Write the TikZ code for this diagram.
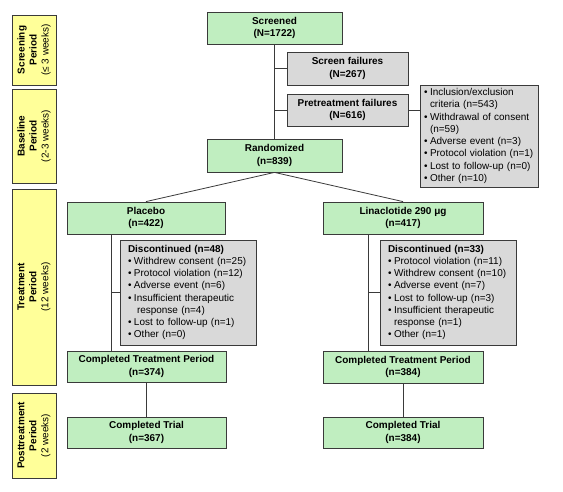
\documentclass[tikz,border=0pt]{standalone}
\usepackage{fontspec}
\setmainfont{Liberation Sans}
\definecolor{stagegreen}{HTML}{C0EEC0}
\definecolor{dropgray}{HTML}{D9D9D9}
\definecolor{periodyellow}{HTML}{FFFF99}
\definecolor{edge}{HTML}{3A3A3A}
\newcommand{\itm}{\makebox[6bp][l]{\textbullet}}
\newcommand{\cnt}{\hspace*{6bp}}

\begin{document}
\begin{tikzpicture}[
  x=1bp, y=1bp, font=\fontsize{10}{12.3}\selectfont,
  stage/.style={draw=edge, fill=stagegreen, line width=0.8bp, align=center, inner sep=0pt, font=\bfseries\fontsize{10}{12.5}\selectfont},
  drop/.style={draw=edge, fill=dropgray, line width=0.8bp, align=center, inner sep=0pt, font=\bfseries\fontsize{10}{12.5}\selectfont},
  reason/.style={draw=edge, fill=dropgray, line width=0.8bp, align=left, inner xsep=4bp, inner ysep=0pt},
  period/.style={draw=edge, fill=periodyellow, line width=0.8bp, align=center, rotate=90, inner sep=0pt, minimum height=44bp, font=\fontsize{10}{12}\selectfont},
  flow/.style={draw=edge, line width=0.8bp}]
  \useasboundingbox (0,0) rectangle (563,-492);
  \node[period, minimum width=70bp] (pscreen) at (34,-50) {\textbf{Screening}\\\textbf{Period}\\(≤ 3 weeks)};
  \node[period, minimum width=94bp] (pbase) at (34,-136) {\textbf{Baseline}\\\textbf{Period}\\(2-3 weeks)};
  \node[period, minimum width=196bp] (ptreat) at (34,-287) {\textbf{Treatment}\\\textbf{Period}\\(12 weeks)};
  \node[period, minimum width=85bp] (ppost) at (34,-435.5) {\textbf{Posttreatment}\\\textbf{Period}\\(2 weeks)};
  \node[stage, minimum width=135bp, minimum height=32bp] (screened) at (274.5,-28) {Screened\\(N=1722)};
  \node[drop, minimum width=121bp, minimum height=33bp] (screenfail) at (347.5,-68.5) {Screen failures\\(N=267)};
  \node[drop, minimum width=121bp, minimum height=32bp] (pretreatfail) at (347.5,-110) {Pretreatment failures\\(N=616)};
  \node[reason, text width=110bp, minimum height=102bp] (pretreatwhy) at (479,-136) {\itm Inclusion/exclusion\\\cnt criteria (n=543)\\\itm Withdrawal of consent\\\cnt (n=59)\\\itm Adverse event (n=3)\\\itm Protocol violation (n=1)\\\itm Lost to follow-up (n=0)\\\itm Other (n=10)};
  \node[stage, minimum width=135bp, minimum height=33bp] (randomized) at (274.5,-155.5) {Randomized\\(n=839)};
  \node[stage, minimum width=158bp, minimum height=32bp] (placebo) at (146,-218) {Placebo\\(n=422)};
  \node[stage, minimum width=160bp, minimum height=32bp] (lina) at (403,-218) {Linaclotide 290 μg\\(n=417)};
  \node[reason, inner xsep=8bp, text width=120bp, minimum height=105bp] (placebodisc) at (188,-292.5) {\textbf{Discontinued (n=48)}\\\itm Withdrew consent (n=25)\\\itm Protocol violation (n=12)\\\itm Adverse event (n=6)\\\itm Insufficient therapeutic\\\cnt\hspace*{3bp}response (n=4)\\\itm Lost to follow-up (n=1)\\\itm Other (n=0)};
  \node[reason, inner xsep=8bp, text width=120bp, minimum height=105bp] (linadisc) at (448,-292.5) {\textbf{Discontinued (n=33)}\\\itm Protocol violation (n=11)\\\itm Withdrew consent (n=10)\\\itm Adverse event (n=7)\\\itm Lost to follow-up (n=3)\\\itm Insufficient therapeutic\\\cnt response (n=1)\\\itm Other (n=1)};
  \node[stage, minimum width=159bp, minimum height=31bp] (placebotreat) at (146.5,-366.5) {Completed Treatment Period\\(n=374)};
  \node[stage, minimum width=160bp, minimum height=32bp] (linatreat) at (403,-367) {Completed Treatment Period\\(n=384)};
  \node[stage, minimum width=159bp, minimum height=31bp] (placebotrial) at (146.5,-432.5) {Completed Trial\\(n=367)};
  \node[stage, minimum width=160bp, minimum height=31bp] (linatrial) at (403,-432.5) {Completed Trial\\(n=384)};
  \coordinate (placebospine) at (111,-218);
  \coordinate (linaspine) at (368,-218);
  \draw[flow] (screened.south) -- (randomized.north);
  \draw[flow] (screenfail.west) -- (screenfail.west -| screened.south);
  \draw[flow] (pretreatfail.west) -- (pretreatfail.west -| screened.south);
  \draw[flow] (pretreatfail.east) -- (pretreatfail.east -| pretreatwhy.west);
  \draw[flow] (randomized.south) -- (placebo.north);
  \draw[flow] (randomized.south) -- (lina.north);
  \draw[flow] (placebo.south -| placebospine) -- (placebotreat.north -| placebospine);
  \draw[flow] (placebodisc.west) -- (placebodisc.west -| placebospine);
  \draw[flow] (lina.south -| linaspine) -- (linatreat.north -| linaspine);
  \draw[flow] (linadisc.west) -- (linadisc.west -| linaspine);
  \draw[flow] (placebotreat.south) -- (placebotrial.north);
  \draw[flow] (linatreat.south) -- (linatrial.north);
\end{tikzpicture}
\end{document}
